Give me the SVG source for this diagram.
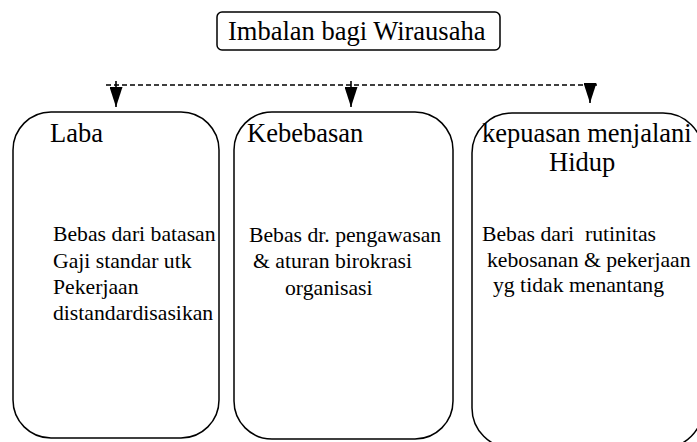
<svg xmlns="http://www.w3.org/2000/svg" width="697" height="442" viewBox="0 0 697 442">
<style>
  .box { fill: #ffffff; stroke: #000000; stroke-width: 1.5; }
  .t { fill: #000000; }
  .h { font-size: 26.5px; }
  .b { font-size: 21.7px; }
  .conn { fill: none; stroke: #000000; stroke-width: 1.6; }
</style>
<defs>
  <marker id="arr" viewBox="0 0 20 13" refX="20" refY="6.5" markerWidth="20" markerHeight="13" markerUnits="userSpaceOnUse" orient="auto">
    <path d="M0,0 L20,6.5 L0,13 Z" fill="#000000"/>
  </marker>
</defs>
<rect width="697" height="442" fill="#ffffff"/>
<g font-family="'Liberation Serif', 'Times New Roman', Tinos, 'DejaVu Serif', serif">
<g id="title">
  <rect class="box" x="217" y="12" width="283" height="38" rx="5"/>
  <text class="t h" x="228" y="39.5">Imbalan bagi Wirausaha</text>
</g>
<g id="connectors">
  <path class="conn" d="M106,85 H597" stroke-dasharray="5,3"/>
  <path class="conn" d="M116,81 V107" marker-end="url(#arr)"/>
  <path class="conn" d="M351,81 V107" marker-end="url(#arr)"/>
  <path class="conn" d="M590,85 V103" marker-end="url(#arr)"/>
</g>
<g id="laba">
  <rect class="box" x="13" y="112" width="206" height="326" rx="38"/>
  <text class="t h" x="50" y="142">Laba</text>
  <text class="t b" x="53" y="241">Bebas dari batasan</text>
  <text class="t b" x="53" y="268">Gaji standar utk</text>
  <text class="t b" x="53" y="294">Pekerjaan</text>
  <text class="t b" x="53" y="320">distandardisasikan</text>
</g>
<g id="kebebasan">
  <rect class="box" x="234" y="112" width="219" height="327" rx="38"/>
  <text class="t h" x="247" y="142">Kebebasan</text>
  <text class="t b" x="249" y="242">Bebas dr. pengawasan</text>
  <text class="t b" x="253" y="268">&amp; aturan birokrasi</text>
  <text class="t b" x="285" y="295">organisasi</text>
</g>
<g id="kepuasan">
  <rect class="box" x="472" y="113" width="231" height="335" rx="40"/>
  <text class="t h" x="482" y="142">kepuasan menjalani</text>
  <text class="t h" x="549" y="171">Hidup</text>
  <text class="t b" x="482" y="241" xml:space="preserve">Bebas dari  rutinitas</text>
  <text class="t b" x="487" y="267">kebosanan &amp; pekerjaan</text>
  <text class="t b" x="493" y="292">yg tidak menantang</text>
</g>
</g>
</svg>
